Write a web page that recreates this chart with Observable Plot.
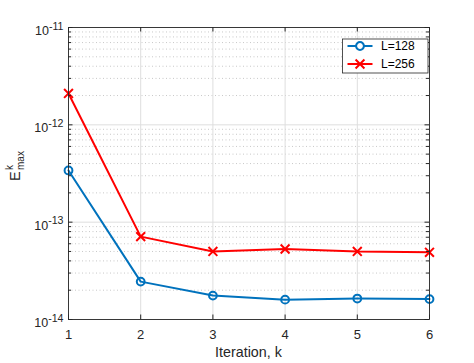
<!DOCTYPE html>
<html><head><meta charset="utf-8">
<script src="https://cdn.jsdelivr.net/npm/d3@7"></script>
<script src="https://cdn.jsdelivr.net/npm/@observablehq/plot@0.6"></script>
<style>
body{margin:0;background:#fff;}
svg{font-family:"Liberation Sans",Arial,Helvetica,sans-serif;}
</style>
</head><body><div id="chart"></div>
<script>
// ---- data ----
const iterations = [1, 2, 3, 4, 5, 6];
const l128 = [3.4e-13, 2.45e-14, 1.76e-14, 1.6e-14, 1.64e-14, 1.62e-14];
const l256 = [2.1e-12, 7.1e-14, 5.0e-14, 5.3e-14, 5.0e-14, 4.9e-14];
const seriesNames = ["L=128", "L=256"];
const seriesColors = ["#0072BD", "#FF0000"];
const yMajorTicks = [1e-14, 1e-13, 1e-12, 1e-11];
const yMinorTicks = yMajorTicks.slice(0, -1).flatMap(d => [2,3,4,5,6,7,8,9].map(m => m * d));
const xLabel = "Iteration, k";

const rows128 = iterations.map((k, i) => ({k, v: l128[i]}));
const rows256 = iterations.map((k, i) => ({k, v: l256[i]}));

const W = 474, H = 363, mL = 68, mR = 45, mT = 27, mB = 44;
const pw = W - mL - mR, ph = H - mT - mB;
const ink = "#262626";

const chart = Plot.plot({
  width: W, height: H,
  marginLeft: mL, marginRight: mR, marginTop: mT, marginBottom: mB,
  style: {fontFamily: '"Liberation Sans",Arial,sans-serif', fontSize: "13px", color: ink, background: "#fff", overflow: "visible"},
  x: {domain: [1, 6]},
  y: {type: "log", domain: [1e-14, 1e-11]},
  marks: [
    Plot.ruleY(yMinorTicks, {stroke: "#c8c8c8", strokeDasharray: "1,2.5"}),
    Plot.ruleY(yMajorTicks, {stroke: "#dedede"}),
    Plot.ruleX(iterations, {stroke: "#dedede"}),
    Plot.line(rows128, {x: "k", y: "v", stroke: seriesColors[0], strokeWidth: 2}),
    Plot.dot(rows128, {x: "k", y: "v", symbol: "circle", r: 3.9, stroke: seriesColors[0], strokeWidth: 2, fill: "none"}),
    Plot.line(rows256, {x: "k", y: "v", stroke: seriesColors[1], strokeWidth: 2}),
    Plot.dot(rows256, {x: "k", y: "v", symbol: "times", r: 4.1, stroke: seriesColors[1], strokeWidth: 2}),
    Plot.frame({stroke: ink, strokeWidth: 0.9}),
    // inward ticks (left / right / bottom / top)
    Plot.tickY(yMajorTicks, {insetRight: pw - 4.5, stroke: ink}),
    Plot.tickY(yMinorTicks, {insetRight: pw - 3, stroke: ink}),
    Plot.tickY(yMajorTicks, {insetLeft: pw - 4.5, stroke: ink}),
    Plot.tickY(yMinorTicks, {insetLeft: pw - 3, stroke: ink}),
    Plot.tickX(iterations, {insetTop: ph - 4.5, stroke: ink}),
    Plot.tickX(iterations, {insetBottom: ph - 4.5, stroke: ink}),
    Plot.axisX({ticks: iterations, tickSize: 0, tickPadding: 10.5, label: null, fontSize: 13,
      tickFormat: d => String(d)}),
    Plot.axisY({ticks: yMajorTicks, tickSize: 0, tickPadding: 5, label: null, fontSize: 12.5,
      tickFormat: d => "10^" + Math.round(Math.log10(d))})
  ]
});
document.getElementById("chart").appendChild(chart);

const svg = d3.select(chart);
// superscript exponents on y tick labels
svg.selectAll('g[aria-label="y-axis tick label"] text').each(function() {
  const t = d3.select(this);
  const [base, exp] = t.text().split("^");
  t.text(null);
  t.append("tspan").attr("dy", "0.28em").text(base);
  t.append("tspan").attr("dy", "-0.5em").attr("font-size", "0.85em").text(exp);
});

// x label
svg.append("text")
  .attr("x", mL + pw / 2).attr("y", 357)
  .attr("text-anchor", "middle").attr("fill", ink)
  .style("font-size", "14.3px")
  .text(xLabel);

// y label E^k_max
const yl = svg.append("text")
  .attr("transform", "translate(20,181) rotate(-90)")
  .attr("text-anchor", "start")
  .attr("fill", ink).style("font-size", "14.3px");
yl.append("tspan").attr("x", 0).attr("y", 0).text("E");
yl.append("tspan").attr("x", 11).attr("y", -7.5).style("font-size", "10px").text("k");
yl.append("tspan").attr("x", 11).attr("y", 3.5).style("font-size", "10px").text("max");

// legend
const lg = svg.append("g").attr("transform", "translate(342.5,39)");
lg.append("rect").attr("width", 85.5).attr("height", 34).attr("fill", "#fff").attr("stroke", ink).attr("stroke-width", 0.8);
const rowsY = [7, 25];
const sym = [d3.symbol(d3.symbolCircle, Math.PI * 3.9 * 3.9), d3.symbol(d3.symbolTimes, Math.PI * 4.1 * 4.1)];
seriesNames.forEach((name, i) => {
  const g = lg.append("g").attr("transform", `translate(0,${rowsY[i]})`);
  g.append("line").attr("x1", 5).attr("x2", 30).attr("stroke", seriesColors[i]).attr("stroke-width", 2);
  g.append("path").attr("transform", "translate(17.5,0)").attr("d", sym[i]())
    .attr("fill", i === 0 ? "#fff" : "none").attr("stroke", seriesColors[i]).attr("stroke-width", 2);
  g.append("text").attr("x", 38.5).attr("dy", "0.36em").attr("text-anchor", "start")
    .style("font-size", "12px").attr("fill", "#000").text(name);
});
</script>
</body></html>
